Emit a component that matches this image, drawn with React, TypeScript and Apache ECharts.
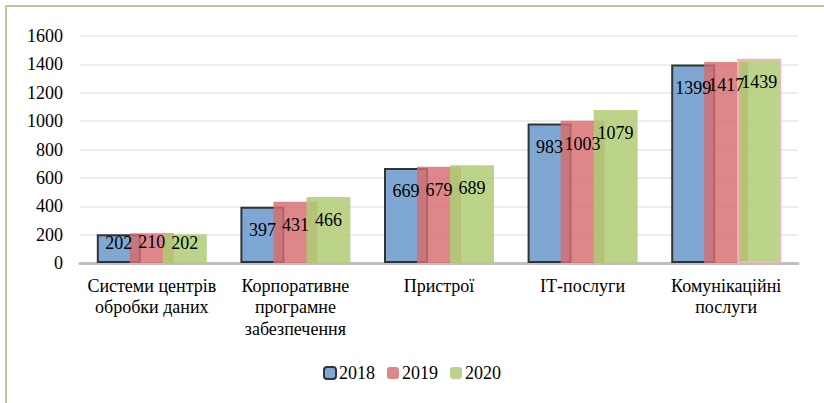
import React, { useEffect, useRef } from "react";
import * as echarts from "echarts";

const categories = [
  "Системи центрів\nобробки даних",
  "Корпоративне\nпрограмне\nзабезпечення",
  "Пристрої",
  "ІТ-послуги",
  "Комунікаційні\nпослуги",
];
const seriesNames = ["2018", "2019", "2020"];
const values2018 = [202, 397, 669, 983, 1399];
const values2019 = [210, 431, 679, 1003, 1417];
const values2020 = [202, 466, 689, 1079, 1439];
const yTicks = { min: 0, max: 1600, interval: 200 };

const FONT = "serif";

export default function App() {
  const ref = useRef<HTMLDivElement>(null);
  useEffect(() => {
    if (!ref.current) return;
    const chart = echarts.init(ref.current, null, { renderer: "svg" });
    const mkData = (vals: number[]) =>
      vals.map((v) =>
        v < 300
          ? { value: v, label: { position: "insideTop", distance: 0 } }
          : { value: v }
      );
    const label = {
      show: true,
      position: "insideTop",
      distance: 14,
      color: "#000",
      fontFamily: FONT,
      fontSize: 18,
    };
    chart.setOption({
      animation: false,
      backgroundColor: "#fff",
      textStyle: { fontFamily: FONT },
      graphic: [
        {
          type: "rect",
          shape: { x: 6, y: 6, width: 840, height: 420 },
          style: { fill: "none", stroke: "#cbbf9a", lineWidth: 2 },
          silent: true,
        },
      ],
      grid: { left: 80, right: 26, top: 36, bottom: 140 },
      legend: {
        data: seriesNames,
        bottom: 16,
        left: "center",
        itemWidth: 12,
        itemHeight: 12,
        itemGap: 12,
        textStyle: { fontFamily: FONT, fontSize: 18, color: "#000", padding: [0, 0, 0, -2] },
      },
      xAxis: {
        type: "category",
        data: categories,
        axisLine: { lineStyle: { color: "#bfbfbf", width: 3 } },
        axisTick: { show: false },
        axisLabel: {
          interval: 0,
          color: "#000",
          fontFamily: FONT,
          fontSize: 18,
          lineHeight: 21.5,
          margin: 12,
        },
      },
      yAxis: {
        type: "value",
        min: yTicks.min,
        max: yTicks.max,
        interval: yTicks.interval,
        axisLine: { show: false },
        axisTick: { show: false },
        splitLine: { lineStyle: { color: "#ededed", width: 2 } },
        axisLabel: {
          color: "#000",
          fontFamily: FONT,
          fontSize: 18,
          margin: 17,
          formatter: (v: number) => String(v),
        },
      },
      series: [
        {
          name: seriesNames[0],
          type: "bar",
          data: mkData(values2018),
          barWidth: 44,
          barGap: "-25%",
          itemStyle: { color: "#7fa7d3", borderColor: "#333", borderWidth: 2 },
          label,
        },
        {
          name: seriesNames[1],
          type: "bar",
          data: mkData(values2019),
          barWidth: 44,
          barGap: "-25%",
          itemStyle: { color: "rgba(214,108,110,0.82)" },
          label,
        },
        {
          name: seriesNames[2],
          type: "bar",
          data: mkData(values2020).map((d, i) =>
            i === 4
              ? { ...d, itemStyle: { borderColor: "#efb6b8", borderWidth: 2 } }
              : d
          ),
          barWidth: 44,
          barGap: "-25%",
          itemStyle: { color: "rgba(176,204,118,0.85)" },
          label,
        },
      ],
    });
    return () => chart.dispose();
  }, []);
  return (
    <div
      ref={ref}
      style={{ position: "fixed", left: 0, top: 0, width: 824, height: 403 }}
    />
  );
}
